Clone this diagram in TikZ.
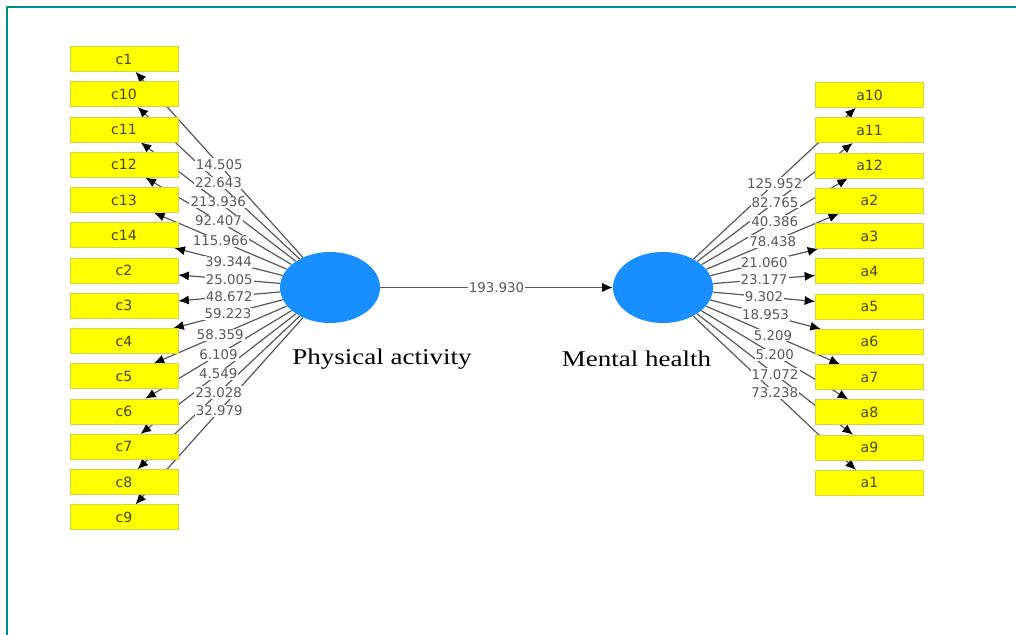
\documentclass[tikz,border=0pt]{standalone}
\usepackage{fontspec}
\setmainfont{Liberation Serif}
\newfontfamily\plsfont{DejaVu Sans}
\newfontfamily\lvfont[FakeStretch=1.2]{Liberation Serif}
\usetikzlibrary{shapes.geometric,arrows.meta,backgrounds}

\definecolor{indyellow}{RGB}{255,255,0}
\definecolor{indedge}{RGB}{210,210,70}
\definecolor{lvblue}{RGB}{24,142,255}
\definecolor{frameteal}{RGB}{0,139,139}
\definecolor{pathgray}{RGB}{88,88,88}
\definecolor{indtext}{RGB}{70,70,20}

\tikzset{
  indbox/.style={rectangle, fill=indyellow, draw=indedge, line width=0.4pt,
    minimum width=2.7cm, minimum height=0.625cm, inner sep=0pt,
    font=\plsfont\fontsize{10}{12}\selectfont, text=indtext},
  latent/.style={ellipse, fill=lvblue, minimum width=2.5cm,
    minimum height=1.775cm, inner sep=0pt},
  loading/.style={draw=pathgray, line width=0.85pt,
    -{Latex[length=7.5pt,width=6.5pt,color=black]}},
  weight/.style={fill=white, inner sep=0.8pt, text=pathgray,
    font=\plsfont\fontsize{9.5}{11}\selectfont},
  lvname/.style={font=\lvfont\fontsize{16}{19}\selectfont, inner sep=0pt}
}

\newcommand\pamap{c1/14.505, c10/22.643, c11/213.936, c12/92.407,
  c13/115.966, c14/39.344, c2/25.005, c3/48.672, c4/59.223, c5/58.359,
  c6/6.109, c7/4.549, c8/23.028, c9/32.979}
\newcommand\mhmap{a10/125.952, a11/82.765, a12/40.386, a2/78.438,
  a3/21.060, a4/23.177, a5/9.302, a6/18.953, a7/5.209, a8/5.200,
  a9/17.072, a1/73.238}

\begin{document}
\begin{tikzpicture}[x=0.025cm, y=-0.025cm]
  \useasboundingbox (0,0) rectangle (1016,635);

  % 1. Frame (top and left edges only)
  \draw[frameteal, line width=1.4pt] (7,635) -- (7,7) -- (1016,7);

  % 2. The two latent variables and their names
  \node[latent] (pa) at (330,287.5) {};
  \node[latent] (mh) at (663,287.5) {};
  \node[lvname] (palbl) at (382,359) {Physical activity};
  \node[lvname] (mhlbl) at (636.5,359) {Mental health};

  % 3. Indicator boxes
  \foreach \ind [count=\i from 0] in {c1,c10,c11,c12,c13,c14,c2,c3,c4,c5,c6,c7,c8,c9}
    \node[indbox] (\ind) at (124,59+35.25*\i) {\ind};
  \foreach \ind [count=\i from 0] in {a10,a11,a12,a2,a3,a4,a5,a6,a7,a8,a9,a1}
    \node[indbox] (\ind) at (869.5,95+35.25*\i) {\ind};

  % 4. Loadings, kept behind the boxes
  \begin{scope}[on background layer]
    \foreach \ind/\val in \pamap
      \draw[loading] (pa) -- (\ind);
    \foreach \ind/\val in \mhmap
      \draw[loading] (mh) -- (\ind);
    \foreach \ind/\val in \pamap
      \path (pa) -- node[weight] {\val} (\ind);
    \foreach \ind/\val in \mhmap
      \path (mh) -- node[weight] {\val} (\ind);
  \end{scope}

  % 5. Structural path
  \draw[loading] (pa) -- node[weight] {193.930} (mh);
\end{tikzpicture}
\end{document}
